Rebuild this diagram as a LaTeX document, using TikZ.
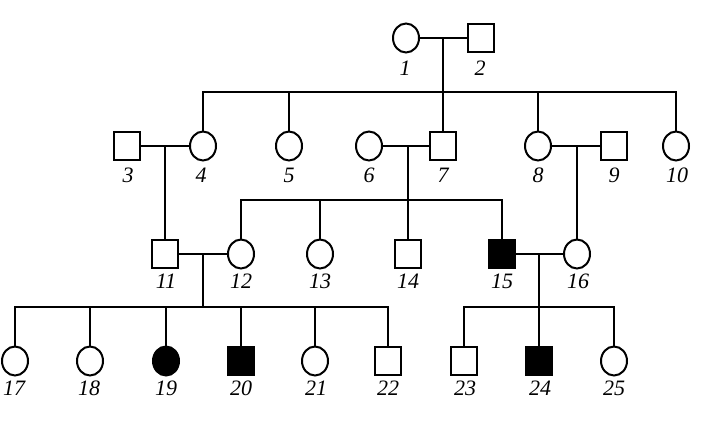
\documentclass[tikz,border=0pt]{standalone}
\usepackage{fontspec}
\setmainfont{Liberation Serif}
\usetikzlibrary{shapes.geometric}
\begin{document}
\begin{tikzpicture}[x=1pt,y=-1pt,
  fem/.style={ellipse,draw,line width=2pt,minimum width=26pt,minimum height=29pt,inner sep=0pt},
  mal/.style={rectangle,draw,line width=2pt,minimum width=26pt,minimum height=28pt,inner sep=0pt},
  aff/.style={fill=black},
  lab/.style={font=\fontsize{22}{22}\selectfont\itshape,inner sep=0pt},
  ln/.style={line width=1.7pt}]
\useasboundingbox (0,0) rectangle (703,428);
% generation I
\node[fem] (n1) at (406,38) {};
\node[mal] (n2) at (481,38) {};
% generation II
\node[mal] (n3) at (127,146) {};
\node[fem] (n4) at (203,146) {};
\node[fem] (n5) at (289,146) {};
\node[fem] (n6) at (369,146) {};
\node[mal] (n7) at (443,146) {};
\node[fem] (n8) at (538,146) {};
\node[mal] (n9) at (614,146) {};
\node[fem] (n10) at (676,146) {};
% generation III
\node[mal] (n11) at (165,254) {};
\node[fem] (n12) at (241,254) {};
\node[fem] (n13) at (320,254) {};
\node[mal] (n14) at (408,254) {};
\node[mal,aff] (n15) at (502,254) {};
\node[fem] (n16) at (577,254) {};
% generation IV
\node[fem] (n17) at (15,361) {};
\node[fem] (n18) at (90,361) {};
\node[fem,aff] (n19) at (166,361) {};
\node[mal,aff] (n20) at (241,361) {};
\node[fem] (n21) at (315,361) {};
\node[mal] (n22) at (388,361) {};
\node[mal] (n23) at (464,361) {};
\node[mal,aff] (n24) at (539,361) {};
\node[fem] (n25) at (614,361) {};
% labels
\node[lab] (t1) at (405,68) {1};
\node[lab] (t2) at (480,68) {2};
\node[lab] (t3) at (128,175) {3};
\node[lab] (t4) at (201,175) {4};
\node[lab] (t5) at (289,175) {5};
\node[lab] (t6) at (369,175) {6};
\node[lab] (t7) at (443,175) {7};
\node[lab] (t8) at (538,175) {8};
\node[lab] (t9) at (614,175) {9};
\node[lab] (t10) at (677,175) {10};
\node[lab] (t11) at (166,281) {11};
\node[lab] (t12) at (241,281) {12};
\node[lab] (t13) at (320,281) {13};
\node[lab] (t14) at (408,281) {14};
\node[lab] (t15) at (502,281) {15};
\node[lab] (t16) at (578,281) {16};
\node[lab] (t17) at (14,388) {17};
\node[lab] (t18) at (89,388) {18};
\node[lab] (t19) at (166,388) {19};
\node[lab] (t20) at (241,388) {20};
\node[lab] (t21) at (316,388) {21};
\node[lab] (t22) at (388,388) {22};
\node[lab] (t23) at (465,388) {23};
\node[lab] (t24) at (540,388) {24};
\node[lab] (t25) at (614,388) {25};
% coordinates
\coordinate (d12) at (443,38);
\coordinate (d34) at (165,146);
\coordinate (d67) at (408,146);
\coordinate (d89) at (577,146);
\coordinate (d1112) at (203,254);
\coordinate (d1516) at (539,254);
\coordinate (s2) at (0,92);
\coordinate (s3) at (0,200);
\coordinate (s4) at (0,307);
% couple lines
\draw[ln] (n1.east) -- (n2.west);
\draw[ln] (n3.east) -- (n4.west);
\draw[ln] (n6.east) -- (n7.west);
\draw[ln] (n8.east) -- (n9.west);
\draw[ln] (n11.east) -- (n12.west);
\draw[ln] (n15.east) -- (n16.west);
% descent lines
\draw[ln] (d12) -- (d12 |- s2);
\draw[ln] (d34) -- (n11.north);
\draw[ln] (d67) -- (n14.north);
\draw[ln] (d89) -- (n16.north);
\draw[ln] (d1112) -- (d1112 |- s4);
\draw[ln] (d1516) -- (n24.north);
% sibship II
\draw[ln] (n4.north) -- (n4 |- s2) -- (n10 |- s2) -- (n10.north);
\draw[ln] (n5.north) -- (n5 |- s2);
\draw[ln] (n7.north) -- (n7 |- s2);
\draw[ln] (n8.north) -- (n8 |- s2);
% sibship III
\draw[ln] (n12.north) -- (n12 |- s3) -- (n15 |- s3) -- (n15.north);
\draw[ln] (n13.north) -- (n13 |- s3);
% sibship IV left
\draw[ln] (n17.north) -- (n17 |- s4) -- (n22 |- s4) -- (n22.north);
\draw[ln] (n18.north) -- (n18 |- s4);
\draw[ln] (n19.north) -- (n19 |- s4);
\draw[ln] (n20.north) -- (n20 |- s4);
\draw[ln] (n21.north) -- (n21 |- s4);
% sibship IV right
\draw[ln] (n23.north) -- (n23 |- s4) -- (n25 |- s4) -- (n25.north);
\end{tikzpicture}
\end{document}
